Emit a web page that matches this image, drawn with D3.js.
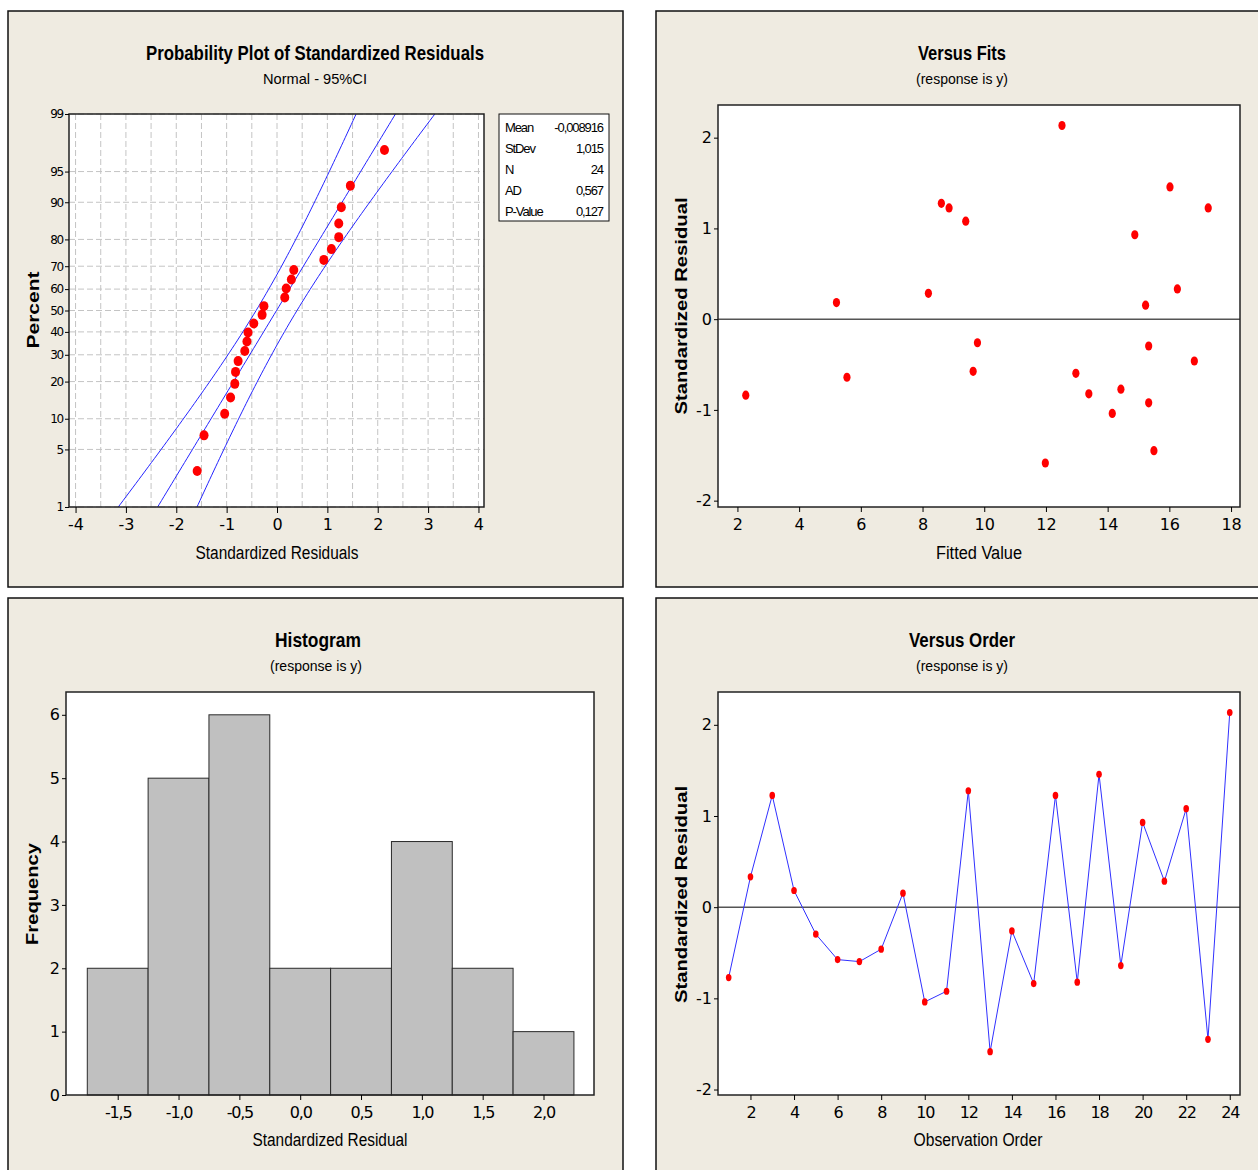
<!DOCTYPE html>
<html>
<head>
<meta charset="utf-8">
<script src="https://cdn.jsdelivr.net/npm/d3@7"></script>
<style>
  body { margin: 0; background: #fff; }
  text { font-family: "Liberation Sans", Arial, sans-serif; fill: #000; }
</style>
</head>
<body>
<div id="chart"></div>
<script>
const observation = [1, 2, 3, 4, 5, 6, 7, 8, 9, 10, 11, 12, 13, 14, 15, 16, 17, 18, 19, 20, 21, 22, 23, 24];
const residuals = [-0.772, 0.333, 1.226, 0.183, -0.296, -0.575, -0.597, -0.461, 0.154, -1.039,
  -0.922, 1.277, -1.585, -0.260, -0.838, 1.226, -0.823, 1.457, -0.640, 0.930, 0.285, 1.080, -1.449, 2.134];
const fitted = [14.43, 16.26, 8.86, 5.21, 15.33, 9.64, 12.97, 16.81, 15.23, 14.15,
  15.33, 8.61, 11.98, 9.78, 2.27, 17.26, 13.39, 16.02, 5.55, 14.88, 8.19, 9.40, 15.50, 12.52];

const statMean = -0.008916;
const statSd = 1.015;
const statLabels = ["Mean", "StDev", "N", "AD", "P-Value"];
const statValues = ["-0,008916", "1,015", "24", "0,567", "0,127"];

const probTicks = [1, 5, 10, 20, 30, 40, 50, 60, 70, 80, 90, 95, 99];
const probXTicks = [-4, -3, -2, -1, 0, 1, 2, 3, 4];
const fitsXTicks = [2, 4, 6, 8, 10, 12, 14, 16, 18];
const residTicks = [-2, -1, 0, 1, 2];
const histEdges = [-1.75, -1.25, -0.75, -0.25, 0.25, 0.75, 1.25, 1.75, 2.25];
const histXTicks = [-1.5, -1.0, -0.5, 0.0, 0.5, 1.0, 1.5, 2.0];
const histYTicks = [0, 1, 2, 3, 4, 5, 6];
const orderXTicks = [2, 4, 6, 8, 10, 12, 14, 16, 18, 20, 22, 24];

const loc = d3.formatLocale({ decimal: ",", thousands: ".", grouping: [3], currency: ["", ""], minus: "-" });
const fmtInt = loc.format("d");
const fmt1 = loc.format(".1f");

// inverse normal cdf (Acklam)
function qnorm(p) {
  const a = [-3.969683028665376e1, 2.209460984245205e2, -2.759285104469687e2, 1.38357751867269e2, -3.066479806614716e1, 2.506628277459239];
  const b = [-5.447609879822406e1, 1.615858368580409e2, -1.556989798598866e2, 6.680131188771972e1, -1.328068155288572e1];
  const c = [-7.784894002430293e-3, -3.223964580411365e-1, -2.400758277161838, -2.549732539343734, 4.374664141464968, 2.938163982698783];
  const d = [7.784695709041462e-3, 3.224671290700398e-1, 2.445134137142996, 3.754408661907416];
  let q, r;
  if (p < 0.02425) {
    q = Math.sqrt(-2 * Math.log(p));
    return (((((c[0] * q + c[1]) * q + c[2]) * q + c[3]) * q + c[4]) * q + c[5]) / ((((d[0] * q + d[1]) * q + d[2]) * q + d[3]) * q + 1);
  }
  if (p > 1 - 0.02425) {
    q = Math.sqrt(-2 * Math.log(1 - p));
    return -(((((c[0] * q + c[1]) * q + c[2]) * q + c[3]) * q + c[4]) * q + c[5]) / ((((d[0] * q + d[1]) * q + d[2]) * q + d[3]) * q + 1);
  }
  q = p - 0.5; r = q * q;
  return (((((a[0] * r + a[1]) * r + a[2]) * r + a[3]) * r + a[4]) * r + a[5]) * q / (((((b[0] * r + b[1]) * r + b[2]) * r + b[3]) * r + b[4]) * r + 1);
}

const svg = d3.select("#chart").append("svg")
  .attr("width", 1258).attr("height", 1170);

svg.append("rect").attr("width", 1258).attr("height", 1170).attr("fill", "#fff");

// the four panels
[[8, 11, 615, 576], [656, 11, 620, 576], [8, 598, 615, 590], [656, 598, 620, 590]].forEach((p) => {
  svg.append("rect")
    .attr("x", p[0]).attr("y", p[1]).attr("width", p[2]).attr("height", p[3])
    .attr("fill", "#efebe1").attr("stroke", "#111").attr("stroke-width", 1.5);
});

function label(str, x, y, size, len, opts) {
  opts = opts || {};
  const t = svg.append("text")
    .attr("x", x).attr("y", y)
    .attr("text-anchor", "middle")
    .style("font-size", size + "px")
    .style("font-weight", opts.bold ? "bold" : "normal")
    .attr("textLength", len)
    .attr("lengthAdjust", "spacingAndGlyphs")
    .text(str);
  if (opts.rotate) t.attr("transform", "rotate(-90," + x + "," + y + ")");
  return t;
}

function frame(x0, y0, x1, y1) {
  svg.append("rect")
    .attr("x", x0).attr("y", y0).attr("width", x1 - x0).attr("height", y1 - y0)
    .attr("fill", "#fff");
}

function border(x0, y0, x1, y1) {
  svg.append("rect")
    .attr("x", x0).attr("y", y0).attr("width", x1 - x0).attr("height", y1 - y0)
    .attr("fill", "none").attr("stroke", "#222").attr("stroke-width", 1.5);
}

function styleAxis(g, size) {
  g.select(".domain").remove();
  g.selectAll(".tick line").attr("stroke", "#000");
  g.selectAll(".tick text")
    .attr("fill", "#111")
    .style("font-family", "'DejaVu Sans', Verdana, sans-serif")
    .style("font-size", size + "px");
}

// ---------- Probability plot ----------
const pp = { left: 69, right: 484, top: 114, bottom: 507 };
const ppX = d3.scaleLinear().domain([-4.13, 4.11]).range([pp.left, pp.right]);
const ppY = d3.scaleLinear().domain([qnorm(0.01), qnorm(0.99)]).range([pp.bottom, pp.top]);

frame(pp.left, pp.top, pp.right, pp.bottom);

svg.append("clipPath").attr("id", "ppclip").append("rect")
  .attr("x", pp.left).attr("y", pp.top).attr("width", pp.right - pp.left).attr("height", pp.bottom - pp.top);

svg.append("g").selectAll("line.vg").data(ppX.ticks(16)).enter().append("line")
  .attr("x1", (d) => ppX(d)).attr("x2", (d) => ppX(d))
  .attr("y1", pp.top).attr("y2", pp.bottom)
  .attr("stroke", "#c4c4c4").attr("stroke-dasharray", "6,3");

svg.append("g").selectAll("line.hg").data(probTicks).enter().append("line")
  .attr("x1", pp.left).attr("x2", pp.right)
  .attr("y1", (d) => ppY(qnorm(d / 100))).attr("y2", (d) => ppY(qnorm(d / 100)))
  .attr("stroke", "#c4c4c4").attr("stroke-dasharray", "6,3");

// fitted normal line and 95% CI
const zs = d3.range(-2.6, 2.61, 0.05);
const n = residuals.length;
const halfCI = (z) => 1.96 * statSd * Math.sqrt((1 + z * z / 2) / n);
const fitLine = d3.line().x((d) => ppX(d.x)).y((d) => ppY(d.z));
[0, -1, 1].forEach((s) => {
  svg.append("path")
    .datum(zs.map((z) => ({ z: z, x: statMean + statSd * z + s * halfCI(z) })))
    .attr("clip-path", "url(#ppclip)")
    .attr("d", fitLine)
    .attr("fill", "none").attr("stroke", "#2424ff").attr("stroke-width", 1);
});

const sorted = residuals.slice().sort(d3.ascending);
svg.append("g").selectAll("ellipse").data(sorted).enter().append("ellipse")
  .attr("cx", (d) => ppX(d))
  .attr("cy", (d, i) => ppY(qnorm((i + 1 - 0.3) / (n + 0.4))))
  .attr("rx", 4.5).attr("ry", 5)
  .attr("fill", "#f00");

border(pp.left, pp.top, pp.right, pp.bottom);

const ppXAxis = svg.append("g").attr("transform", "translate(0," + pp.bottom + ")")
  .call(d3.axisBottom(ppX).tickValues(probXTicks).tickFormat(fmtInt).tickSize(6).tickPadding(6));
styleAxis(ppXAxis, 16);

const ppYAxis = svg.append("g").attr("transform", "translate(" + pp.left + ",0)")
  .call(d3.axisLeft(ppY).tickValues(probTicks.map((p) => qnorm(p / 100)))
    .tickFormat((d, i) => probTicks[i]).tickSize(4).tickPadding(2));
styleAxis(ppYAxis, 12);
ppYAxis.selectAll(".tick text").style("letter-spacing", "-1.2px");

// stats box
svg.append("rect").attr("x", 499).attr("y", 114).attr("width", 110).attr("height", 107)
  .attr("fill", "#fff").attr("stroke", "#111").attr("stroke-width", 1);
statLabels.forEach((s, i) => {
  svg.append("text").attr("x", 505).attr("y", 131.5 + i * 21)
    .style("font-size", "13px").style("letter-spacing", "-1.1px").text(s);
  svg.append("text").attr("x", 603).attr("y", 131.5 + i * 21)
    .attr("text-anchor", "end")
    .style("font-size", "13px").style("letter-spacing", "-1.1px").text(statValues[i]);
});

label("Probability Plot of Standardized Residuals", 315, 60, 21, 338, { bold: true });
label("Normal - 95%CI", 315, 84, 15, 104);
label("Standardized Residuals", 277, 559, 18, 163);
label("Percent", 38.5, 310, 16, 77, { bold: true, rotate: true });

// ---------- Versus Fits ----------
const vf = { left: 718, right: 1240, top: 105, bottom: 507 };
const vfX = d3.scaleLinear().domain([1.37, 18.29]).range([vf.left, vf.right]);
const vfY = d3.scaleLinear().domain([-2.07, 2.36]).range([vf.bottom, vf.top]);

frame(vf.left, vf.top, vf.right, vf.bottom);
svg.append("line")
  .attr("x1", vf.left).attr("x2", vf.right).attr("y1", vfY(0)).attr("y2", vfY(0))
  .attr("stroke", "#555").attr("stroke-width", 1.5);

svg.append("g").selectAll("ellipse").data(fitted).enter().append("ellipse")
  .attr("cx", (d) => vfX(d))
  .attr("cy", (d, i) => vfY(residuals[i]))
  .attr("rx", 3.6).attr("ry", 4.6)
  .attr("fill", "#f00");

border(vf.left, vf.top, vf.right, vf.bottom);

const vfXAxis = svg.append("g").attr("transform", "translate(0," + vf.bottom + ")")
  .call(d3.axisBottom(vfX).tickValues(fitsXTicks).tickFormat(fmtInt).tickSize(5).tickPadding(7));
styleAxis(vfXAxis, 16);
const vfYAxis = svg.append("g").attr("transform", "translate(" + vf.left + ",0)")
  .call(d3.axisLeft(vfY).tickValues(residTicks).tickFormat(fmtInt).tickSize(4).tickPadding(2));
styleAxis(vfYAxis, 16);

label("Versus Fits", 962, 60, 21, 88, { bold: true });
label("(response is y)", 962, 84, 15, 92);
label("Fitted Value", 979, 559, 18, 86);
label("Standardized Residual", 686.5, 306, 16, 217, { bold: true, rotate: true });

// ---------- Histogram ----------
const hs = { left: 66, right: 594, top: 692, bottom: 1095 };
const hsX = d3.scaleLinear().domain([-1.925, 2.415]).range([hs.left, hs.right]);
const hsY = d3.scaleLinear().domain([0, 6.36]).range([hs.bottom, hs.top]);

const bins = d3.bin()
  .domain([histEdges[0], histEdges[histEdges.length - 1]])
  .thresholds(histEdges.slice(1, -1))(residuals);

frame(hs.left, hs.top, hs.right, hs.bottom);
svg.append("g").selectAll("rect").data(bins).enter().append("rect")
  .attr("x", (d) => hsX(d.x0))
  .attr("y", (d) => hsY(d.length))
  .attr("width", (d) => hsX(d.x1) - hsX(d.x0))
  .attr("height", (d) => hsY(0) - hsY(d.length))
  .attr("fill", "#c0c0c0").attr("stroke", "#2a2a2a").attr("stroke-width", 1);
border(hs.left, hs.top, hs.right, hs.bottom);

const hsXAxis = svg.append("g").attr("transform", "translate(0," + hs.bottom + ")")
  .call(d3.axisBottom(hsX).tickValues(histXTicks).tickFormat(fmt1).tickSize(5).tickPadding(7));
styleAxis(hsXAxis, 16);
hsXAxis.selectAll(".tick text").style("letter-spacing", "-1.2px");
const hsYAxis = svg.append("g").attr("transform", "translate(" + hs.left + ",0)")
  .call(d3.axisLeft(hsY).tickValues(histYTicks).tickFormat(fmtInt).tickSize(4).tickPadding(2));
styleAxis(hsYAxis, 16);

label("Histogram", 318, 647, 21, 86, { bold: true });
label("(response is y)", 316, 671, 15, 92);
label("Standardized Residual", 330, 1146, 18, 155);
label("Frequency", 38, 894, 16, 102, { bold: true, rotate: true });

// ---------- Versus Order ----------
const vo = { left: 718, right: 1240, top: 692, bottom: 1095 };
const voX = d3.scaleLinear().domain([0.51, 24.47]).range([vo.left, vo.right]);
const voY = d3.scaleLinear().domain([-2.06, 2.36]).range([vo.bottom, vo.top]);

frame(vo.left, vo.top, vo.right, vo.bottom);
svg.append("line")
  .attr("x1", vo.left).attr("x2", vo.right).attr("y1", voY(0)).attr("y2", voY(0))
  .attr("stroke", "#555").attr("stroke-width", 1.5);

const orderLine = d3.line().x((d, i) => voX(observation[i])).y((d) => voY(d));
svg.append("path").datum(residuals)
  .attr("d", orderLine)
  .attr("fill", "none").attr("stroke", "#3030ff").attr("stroke-width", 1);

svg.append("g").selectAll("ellipse").data(residuals).enter().append("ellipse")
  .attr("cx", (d, i) => voX(observation[i]))
  .attr("cy", (d) => voY(d))
  .attr("rx", 2.8).attr("ry", 3.6)
  .attr("fill", "#f00");

border(vo.left, vo.top, vo.right, vo.bottom);

const voXAxis = svg.append("g").attr("transform", "translate(0," + vo.bottom + ")")
  .call(d3.axisBottom(voX).tickValues(orderXTicks).tickFormat(fmtInt).tickSize(5).tickPadding(7));
styleAxis(voXAxis, 16);
voXAxis.selectAll(".tick text").style("letter-spacing", "-1.2px");
const voYAxis = svg.append("g").attr("transform", "translate(" + vo.left + ",0)")
  .call(d3.axisLeft(voY).tickValues(residTicks).tickFormat(fmtInt).tickSize(4).tickPadding(2));
styleAxis(voYAxis, 16);

label("Versus Order", 962, 647, 21, 106, { bold: true });
label("(response is y)", 962, 671, 15, 92);
label("Observation Order", 978, 1146, 18, 129);
label("Standardized Residual", 686.5, 894.5, 16, 217, { bold: true, rotate: true });
</script>
</body>
</html>
